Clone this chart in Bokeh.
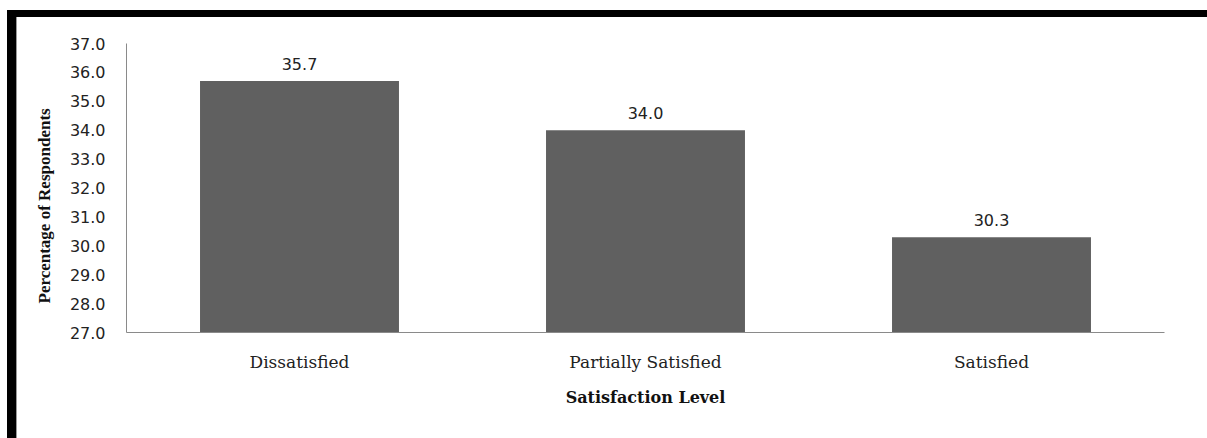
from bokeh.plotting import figure
from bokeh.models import (ColumnDataSource, Range1d, FixedTicker, NumeralTickFormatter,
                          Title, Spacer)
from bokeh.layouts import column, row
from bokeh.core.properties import value
from bokeh.embed import file_html
from bokeh.resources import INLINE

categories = ["Dissatisfied", "Partially Satisfied", "Satisfied"]
percentages = [35.7, 34.0, 30.3]
value_labels = ["35.7", "34.0", "30.3"]
y_ticks = [27, 28, 29, 30, 31, 32, 33, 34, 35, 36, 37]

src = ColumnDataSource(dict(cat=categories, val=percentages, lab=value_labels))

p = figure(x_range=categories, y_range=Range1d(27, 37), width=1190, height=421,
           output_backend="svg", toolbar_location=None,
           min_border_left=109, min_border_right=43, min_border_top=26, min_border_bottom=106)
p.background_fill_color = "white"
p.border_fill_color = "white"
p.outline_line_color = None
p.grid.visible = False

p.vbar(x="cat", top="val", bottom=27, width=0.575, source=src,
       fill_color="#606060", line_color=None)
p.text(x="cat", y="val", text="lab", source=src, text_align="center",
       text_baseline="bottom", y_offset=-11, text_font=value("DejaVu Sans"),
       text_font_size="16px", text_color="#222222")

ya = p.yaxis[0]
ya.ticker = FixedTicker(ticks=y_ticks)
ya.formatter = NumeralTickFormatter(format="0.0")
ya.major_tick_line_color = None
ya.major_tick_out = 0
ya.major_tick_in = 0
ya.minor_tick_line_color = None
ya.axis_line_color = "#8a8a8a"
ya.major_label_standoff = 21
ya.major_label_text_font = "DejaVu Sans"
ya.major_label_text_font_size = "16px"
ya.major_label_text_color = "#222222"

xa = p.xaxis[0]
xa.major_tick_line_color = None
xa.major_tick_out = 0
xa.major_tick_in = 0
xa.minor_tick_line_color = None
xa.axis_line_color = "#8a8a8a"
xa.major_label_standoff = 19
xa.major_label_text_font = "DejaVu Serif"
xa.major_label_text_font_size = "17px"
xa.major_label_text_color = "#222222"
xa.axis_label = "Satisfaction Level"
xa.axis_label_standoff = 13
xa.axis_label_text_font = "DejaVu Serif"
xa.axis_label_text_font_style = "bold"
xa.axis_label_text_font_size = "16px"
xa.axis_label_text_color = "#111111"

p.add_layout(Title(text="Percentage of Respondents", align="left", offset=29,
                   standoff=26, text_font="Liberation Serif", text_font_style="bold",
                   text_font_size="17px", text_color="#111111"), "left")

# page frame: black bands at the top and on the left
top_gap = Spacer(width=1207, height=10)
left_gap = Spacer(width=7, height=428)
top_band = Spacer(width=1200, height=7, background="black")
left_band = Spacer(width=9, height=421, background="black")
left_edge = Spacer(width=1, height=421, background="#999999")

layout = column(top_gap,
                row(left_gap,
                    column(top_band, row(left_band, left_edge, p, spacing=0), spacing=0),
                    spacing=0),
                spacing=0)

open("out.html", "w").write(file_html(layout, INLINE))
